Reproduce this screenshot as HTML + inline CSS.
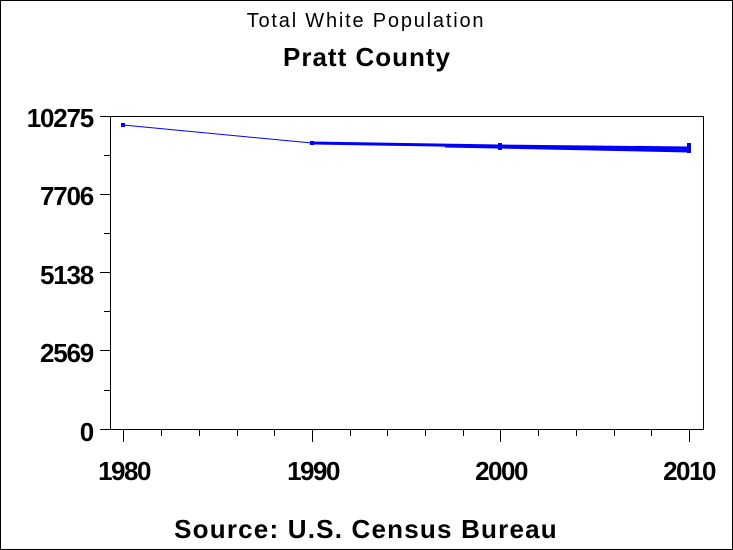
<!DOCTYPE html>
<html><head><style>
body{margin:0;background:#fff;}
svg{display:block;font-family:"Liberation Sans",Arial,sans-serif;}
</style></head><body>
<svg width="733" height="550" viewBox="0 0 733 550">
<rect x="0.5" y="0.5" width="732" height="549" fill="#fff" stroke="#000"/>
<text x="366" y="27" text-anchor="middle" font-size="20" letter-spacing="1.8">Total White Population</text>
<text x="367" y="66" text-anchor="middle" font-size="26" font-weight="bold" letter-spacing="1">Pratt County</text>
<rect x="110.5" y="116.5" width="593" height="313" fill="none" stroke="#000"/>
<g stroke="#000">
<line x1="100" y1="116.5" x2="110" y2="116.5"/>
<line x1="104" y1="155.5" x2="110" y2="155.5"/>
<line x1="100" y1="194.5" x2="110" y2="194.5"/>
<line x1="104" y1="233.5" x2="110" y2="233.5"/>
<line x1="100" y1="272.5" x2="110" y2="272.5"/>
<line x1="104" y1="311.5" x2="110" y2="311.5"/>
<line x1="100" y1="350.5" x2="110" y2="350.5"/>
<line x1="104" y1="390.5" x2="110" y2="390.5"/>
<line x1="100" y1="429.5" x2="110" y2="429.5"/>
<line x1="123.5" y1="429" x2="123.5" y2="442"/>
<line x1="161.5" y1="429" x2="161.5" y2="436"/>
<line x1="199.5" y1="429" x2="199.5" y2="436"/>
<line x1="237.5" y1="429" x2="237.5" y2="436"/>
<line x1="274.5" y1="429" x2="274.5" y2="436"/>
<line x1="312.5" y1="429" x2="312.5" y2="442"/>
<line x1="350.5" y1="429" x2="350.5" y2="436"/>
<line x1="387.5" y1="429" x2="387.5" y2="436"/>
<line x1="425.5" y1="429" x2="425.5" y2="436"/>
<line x1="463.5" y1="429" x2="463.5" y2="436"/>
<line x1="500.5" y1="429" x2="500.5" y2="442"/>
<line x1="538.5" y1="429" x2="538.5" y2="436"/>
<line x1="576.5" y1="429" x2="576.5" y2="436"/>
<line x1="614.5" y1="429" x2="614.5" y2="436"/>
<line x1="651.5" y1="429" x2="651.5" y2="436"/>
<line x1="689.5" y1="429" x2="689.5" y2="442"/>
</g>
<g font-size="26" font-weight="bold" text-anchor="end" letter-spacing="-1.2">
<text x="93" y="127">10275</text>
<text x="93" y="205">7706</text>
<text x="93" y="284">5138</text>
<text x="93" y="362">2569</text>
<text x="93" y="441">0</text>
</g>
<g font-size="26" font-weight="bold" text-anchor="middle" letter-spacing="-1.5">
<text x="124" y="480">1980</text>
<text x="313" y="480">1990</text>
<text x="501" y="480">2000</text>
<text x="689" y="480">2010</text>
</g>
<text x="366" y="538" text-anchor="middle" font-size="26" font-weight="bold" letter-spacing="1.2">Source: U.S. Census Bureau</text>
<g stroke="#00f" fill="none">
<polyline points="123,125 312,143" stroke-width="1"/>
<polyline points="312,143 500,146 689,148" stroke-width="3"/>
<line x1="445" y1="146" x2="689" y2="151" stroke-width="3"/>
</g>
<g fill="#00f">
<rect x="121" y="123" width="4" height="4"/>
<rect x="310" y="141" width="4" height="4"/>
<rect x="498" y="143" width="4" height="7"/>
<rect x="687" y="143" width="4" height="10"/>
</g>
</svg>
</body></html>
